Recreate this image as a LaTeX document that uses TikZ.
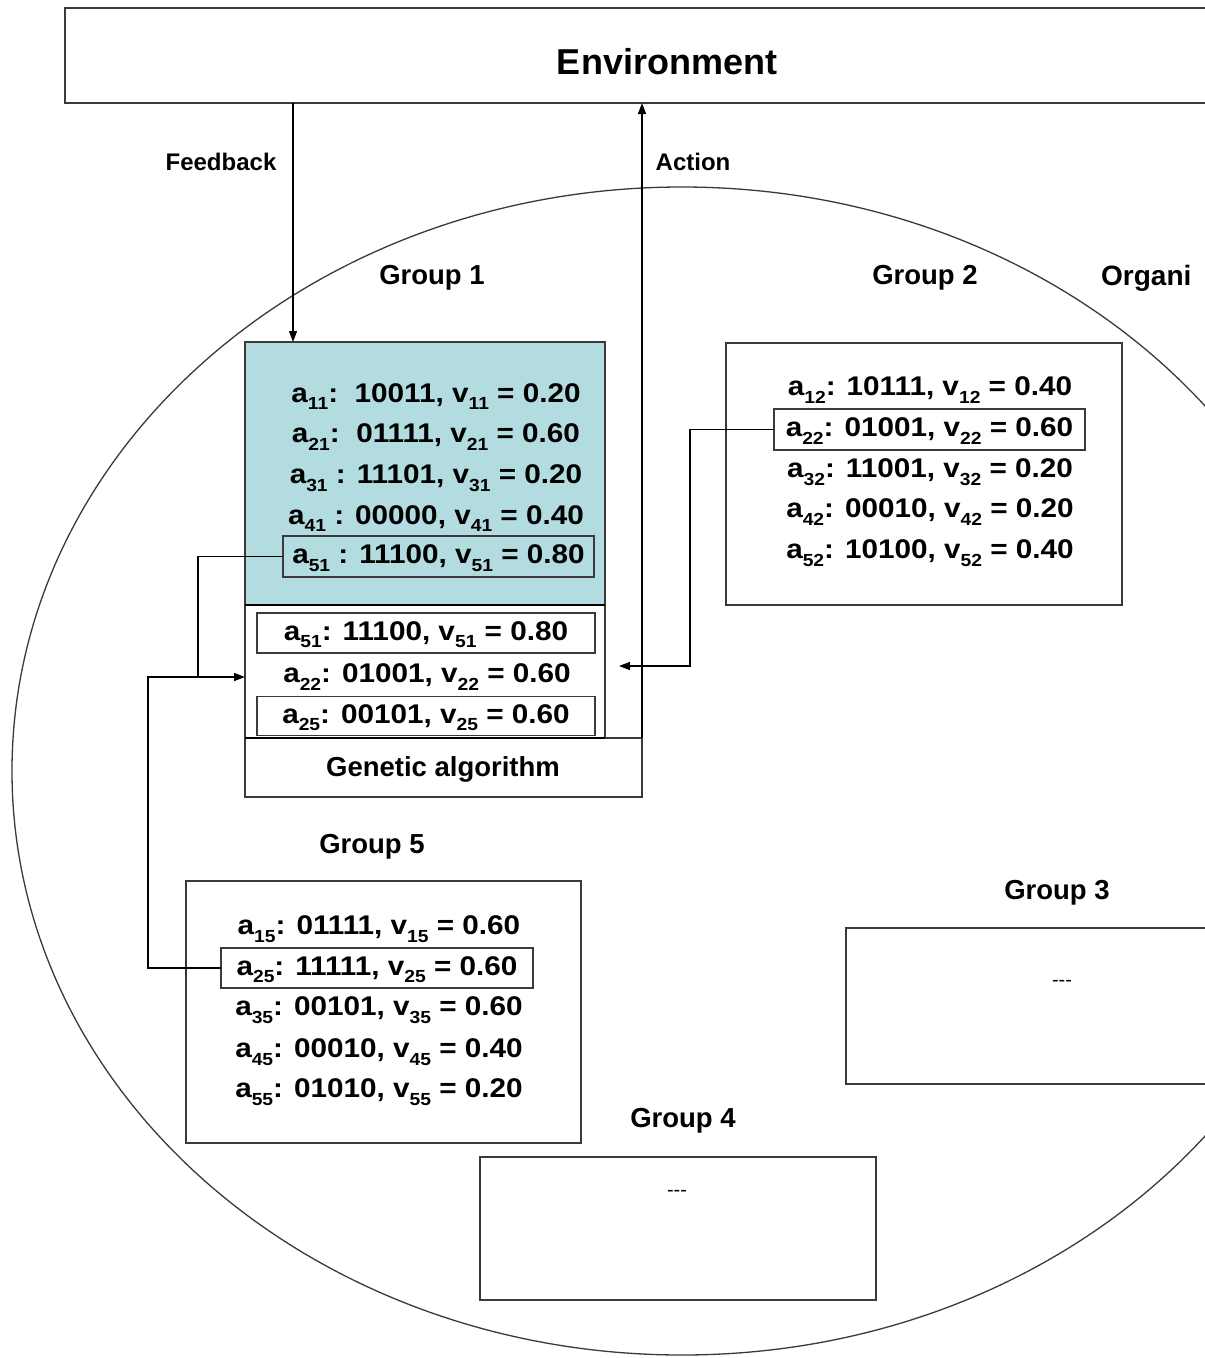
\documentclass[tikz,border=0pt]{standalone}
\usepackage{fontspec}
\setmainfont{Liberation Sans}
\newfontfamily\rowfont[FakeStretch=1.1]{Liberation Sans}
\usetikzlibrary{arrows.meta}
\definecolor{tealfill}{HTML}{B2DCDF}
\definecolor{edgec}{HTML}{3A3A3A}
\newcommand\sbs[1]{\raisebox{-0.28em}[0pt][0pt]{\fontsize{17.5}{17.5}\selectfont #1}}
\tikzset{
  box/.style={draw=edgec, line width=1.6pt, fill=white, inner sep=0pt, outer sep=0pt, anchor=north west},
  rowtxt/.style={font=\rowfont\bfseries\fontsize{27}{27}\selectfont, inner sep=0pt, outer sep=0pt},
  inbox/.style={rowtxt, draw=edgec, line width=1.4pt, fill=none},
  lbl/.style={font=\bfseries\fontsize{27.5}{27.5}\selectfont, inner sep=0pt},
  smlbl/.style={font=\bfseries\fontsize{24}{24}\selectfont, inner sep=0pt},
  dashtxt/.style={font=\fontsize{20}{20}\selectfont, inner sep=0pt},
  conn/.style={line width=1.3pt, black},
  arr/.style={conn, -{Triangle[length=11pt,width=8pt]}},
}
\begin{document}
\begin{tikzpicture}[x=1pt,y=-1pt]
\useasboundingbox (0,0) rectangle (1205,1358);
\clip (0,0) rectangle (1205,1358);
\fill[white] (0,0) rectangle (1205,1358);

% organism outline
\draw[edgec, line width=1.3pt] (682,771) ellipse [x radius=670, y radius=584];

% environment
\node[box, minimum width=1200, minimum height=95] (env) at (65,8) {};
\node[font=\bfseries\fontsize{36}{36}\selectfont, inner sep=0pt] (envlabel) at (667,62) {Environment};

% group labels
\node[lbl] (lg1) at (432,278) {Group 1};
\node[lbl] (lg2) at (925,278) {Group 2};
\node[lbl] (lg5) at (372,847) {Group 5};
\node[lbl] (lg3) at (1057,893) {Group 3};
\node[lbl] (lg4) at (683,1121) {Group 4};
\node[font=\bfseries\fontsize{28}{28}\selectfont, inner sep=0pt, anchor=west] (org) at (1101,278) {Organi};

% group 1
\node[box, fill=tealfill, minimum width=360, minimum height=263] (g1) at (245,342) {};
\node[box, minimum width=360, minimum height=133] (g1low) at (245,605) {};
\node[box, minimum width=397, minimum height=59] (ga) at (245,738) {};
\node[lbl] (galabel) at (443,769) {Genetic algorithm};
\draw[black, line width=2.2pt] (g1low.north west) -- (g1low.north east);
\draw[black, line width=2.2pt] (g1low.south west) -- (g1low.south east);

\node[rowtxt] (r11) at (436,395) {a\sbs{11}:\ \ 10011, v\sbs{11} = 0.20};
\node[rowtxt] (r21) at (436,435.5) {a\sbs{21}:\ \ 01111, v\sbs{21} = 0.60};
\node[rowtxt] (r31) at (436,476.5) {a\sbs{31} : 11101, v\sbs{31} = 0.20};
\node[rowtxt] (r41) at (436,517) {a\sbs{41} : 00000, v\sbs{41} = 0.40};
\node[inbox, minimum width=311, minimum height=41] (r51) at (438.5,556.5) {a\sbs{51} : 11100, v\sbs{51} = 0.80};

\node[inbox, minimum width=338, minimum height=40] (s51) at (426,633) {a\sbs{51}: 11100, v\sbs{51} = 0.80};
\node[rowtxt] (s22) at (427,675.5) {a\sbs{22}: 01001, v\sbs{22} = 0.60};
\node[inbox, minimum width=338, minimum height=39] (s25) at (426,716) {a\sbs{25}: 00101, v\sbs{25} = 0.60};

% group 2
\node[box, minimum width=396, minimum height=262] (g2) at (726,343) {};
\node[rowtxt] (r12) at (930,388.5) {a\sbs{12}: 10111, v\sbs{12} = 0.40};
\node[inbox, minimum width=311, minimum height=41] (r22) at (929.5,429.5) {a\sbs{22}: 01001, v\sbs{22} = 0.60};
\node[rowtxt] (r32) at (930,470.5) {a\sbs{32}: 11001, v\sbs{32} = 0.20};
\node[rowtxt] (r42) at (930,510.5) {a\sbs{42}: 00010, v\sbs{42} = 0.20};
\node[rowtxt] (r52) at (930,551.5) {a\sbs{52}: 10100, v\sbs{52} = 0.40};

% group 5
\node[box, minimum width=395, minimum height=262] (g5) at (186,881) {};
\node[rowtxt] (r15) at (379,927.5) {a\sbs{15}: 01111, v\sbs{15} = 0.60};
\node[inbox, minimum width=312, minimum height=40] (r25) at (377,968) {a\sbs{25}: 11111, v\sbs{25} = 0.60};
\node[rowtxt] (r35) at (379,1008.5) {a\sbs{35}: 00101, v\sbs{35} = 0.60};
\node[rowtxt] (r45) at (379,1050.5) {a\sbs{45}: 00010, v\sbs{45} = 0.40};
\node[rowtxt] (r55) at (379,1090.5) {a\sbs{55}: 01010, v\sbs{55} = 0.20};

% group 3 and 4
\node[box, minimum width=400, minimum height=156] (g3) at (846,928) {};
\node[dashtxt] (d3) at (1062,983) {-{}-{}-};
\node[box, minimum width=396, minimum height=143] (g4) at (480,1157) {};
\node[dashtxt] (d4) at (677,1193) {-{}-{}-};

% feedback / action
\coordinate (fbx) at (293,0);
\draw[arr] (env.south -| fbx) -- (g1.north -| fbx);
\node[smlbl] (fblabel) at (221,162) {Feedback};
\draw[arr] (ga.north east) -- (env.south -| ga.east);
\node[smlbl] (aclabel) at (693,162) {Action};

% migration connectors
\coordinate (j) at (198,677);
\coordinate (k) at (148,677);
\coordinate (m) at (690,666);
\coordinate (tip22) at (619,666);
\draw[arr] (r51.west) -| (j) -- (g1low.west |- j);
\draw[conn] (r25.west) -| (k) -- (j);
\draw[arr] (r22.west) -| (m) -- (tip22);
\end{tikzpicture}
\end{document}
